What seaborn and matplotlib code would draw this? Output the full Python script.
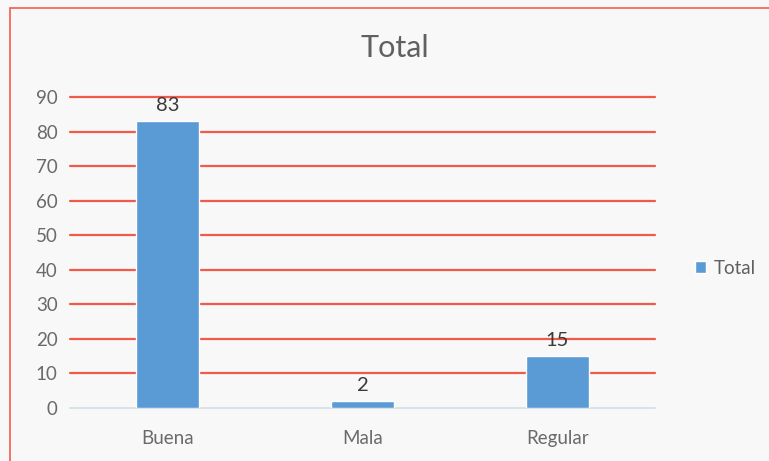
import matplotlib
matplotlib.use("Agg")
import matplotlib.pyplot as plt
import seaborn as sns
import pandas as pd
from matplotlib.patches import Rectangle, Patch

categories = ["Buena", "Mala", "Regular"]
values = [83, 2, 15]
yticks = [0, 10, 20, 30, 40, 50, 60, 70, 80, 90]

sns.set_theme(style="white")
plt.rcParams['font.family'] = ['Lato', 'DejaVu Sans']

df = pd.DataFrame({"cat": categories, "Total": values})

fig = plt.figure(figsize=(7.69, 4.61), dpi=100, facecolor="#f8f8f8")
ax = fig.add_axes([70/769, 1-408/461, 585/769, (408-97)/461])
ax.set_facecolor("#f8f8f8")

sns.barplot(data=df, x="cat", y="Total", color="#5b9bd5", width=0.32, ax=ax, zorder=3, saturation=1)

ax.set_ylim(0, 90)
ax.set_yticks(yticks)
ax.set_xlim(-0.5, 2.5)
for t in yticks[1:]:
    ax.axhline(t, color="#f05a48", lw=1.6, zorder=1, clip_on=False)
ax.axhline(0, color="#d6e4e8", lw=1.4, zorder=1, clip_on=False)
for s in ax.spines.values():
    s.set_visible(False)
ax.tick_params(axis="both", length=0, colors="#6a6a6a", labelsize=13.5)
ax.tick_params(axis="x", pad=16)
ax.tick_params(axis="y", pad=9)
ax.set_xlabel("")
ax.set_ylabel("")

for i, v in enumerate(values):
    ax.annotate(str(v), (i, v), xytext=(0, 5), textcoords="offset points",
                ha="center", va="bottom", fontsize=14.5, color="#3a3a3a", zorder=4)

fig.text(395/769, 1-48/461, "Total", ha="center", va="center", fontsize=22, color="#606060")

leg = fig.legend(handles=[Patch(facecolor="#5b9bd5", label="Total")], loc="center left",
                 bbox_to_anchor=(678/769, 1-268/461), frameon=False, fontsize=13.5,
                 handlelength=0.6, handleheight=0.6, handletextpad=0.4)
for t in leg.get_texts():
    t.set_color("#606060")

fig.patches.append(Rectangle((10/769, -0.1), 1.2, 1.1-8/461, transform=fig.transFigure,
                             fill=False, edgecolor="#f06a5a", lw=1.3, figure=fig))

fig.savefig("out.png", dpi=100, facecolor=fig.get_facecolor())
